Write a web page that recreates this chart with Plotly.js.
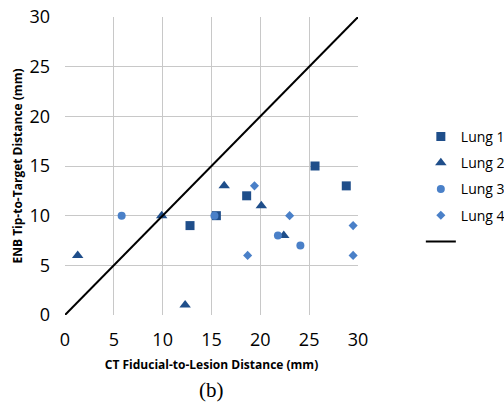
<!DOCTYPE html>
<html>
<head>
<meta charset="utf-8">
<script src="https://cdn.plot.ly/plotly-3.0.1.min.js"></script>
<style>html,body{margin:0;padding:0;background:#fff;}#chart{width:504px;height:406px;}</style>
</head>
<body>
<div id="chart"></div>
<script>
var lung1X = [12.8, 15.5, 18.6, 25.6, 28.8];
var lung1Y = [9, 10, 12, 15, 13];
var lung2X = [1.3, 9.9, 12.3, 16.3, 20.1, 22.4];
var lung2Y = [6, 10, 1, 13, 11, 8];
var lung3X = [5.8, 15.3, 21.8, 24.1];
var lung3Y = [10, 10, 8, 7];
var lung4X = [18.7, 19.4, 23.0, 29.5, 29.5];
var lung4Y = [6, 13, 10, 9, 6];
var identityX = [0, 30];
var identityY = [0, 30];
var tickVals = [0, 5, 10, 15, 20, 25, 30];
var seriesNames = ['Lung 1', 'Lung 2', 'Lung 3', 'Lung 4'];

var dark = '#1F4E8A';
var light = '#4A80C8';

var traces = [
  {x: lung1X, y: lung1Y, name: seriesNames[0], legendgroup: 'g1', mode: 'markers', type: 'scatter',
   marker: {symbol: 'square', size: 9, color: dark}},
  {x: lung2X, y: lung2Y, name: seriesNames[1], legendgroup: 'g2', mode: 'markers', type: 'scatter',
   marker: {symbol: 'triangle-up', size: 10, color: dark}},
  {x: lung3X, y: lung3Y, name: seriesNames[2], legendgroup: 'g3', mode: 'markers', type: 'scatter',
   marker: {symbol: 'circle', size: 8, color: light}},
  {x: lung4X, y: lung4Y, name: seriesNames[3], legendgroup: 'g4', mode: 'markers', type: 'scatter',
   marker: {symbol: 'diamond', size: 7, color: light}},
  {x: identityX, y: identityY, name: ' ', legendgroup: 'g5', mode: 'lines', type: 'scatter',
   line: {color: '#000', width: 2}}
];

var layout = {
  width: 504, height: 406,
  margin: {l: 65, r: 146, t: 17, b: 91, autoexpand: false},
  paper_bgcolor: '#fff', plot_bgcolor: '#fff',
  font: {family: 'Open Sans, Liberation Sans, sans-serif', color: '#000'},
  showlegend: true,
  legend: {xref: 'container', yref: 'container', x: 0.835, xanchor: 'left',
    y: 1 - 121 / 406, yanchor: 'top', traceorder: 'grouped', itemwidth: 30,
    font: {size: 14, color: '#000'}, tracegroupgap: 5, bgcolor: 'rgba(0,0,0,0)'},
  xaxis: {range: [0, 30], tickvals: tickVals, ticktext: tickVals.map(String),
    showgrid: true, gridcolor: '#c8c8c8', gridwidth: 1, zeroline: false, automargin: false,
    showline: false, ticks: '', tickfont: {size: 18}, ticklabelstandoff: 12,
    title: {text: '<b>CT Fiducial-to-Lesion Distance (mm)</b>', font: {size: 12}, standoff: 10}},
  yaxis: {range: [0, 30], tickvals: tickVals, ticktext: tickVals.map(String),
    showgrid: true, gridcolor: '#c8c8c8', gridwidth: 1, zeroline: false, automargin: false,
    showline: false, ticks: '', tickfont: {size: 18}, ticklabelstandoff: 14,
    title: {text: '<b>ENB Tip-to-Target Distance (mm)</b>', font: {size: 12}, standoff: 4}},
  annotations: [{text: '(b)', xref: 'paper', yref: 'paper', x: 0.5, y: -75 / 298,
    xanchor: 'center', yanchor: 'middle', showarrow: false,
    font: {family: 'Liberation Serif, serif', size: 21, color: '#000'}}]
};

Plotly.newPlot('chart', traces, layout, {displayModeBar: false, staticPlot: true});
</script>
</body>
</html>
